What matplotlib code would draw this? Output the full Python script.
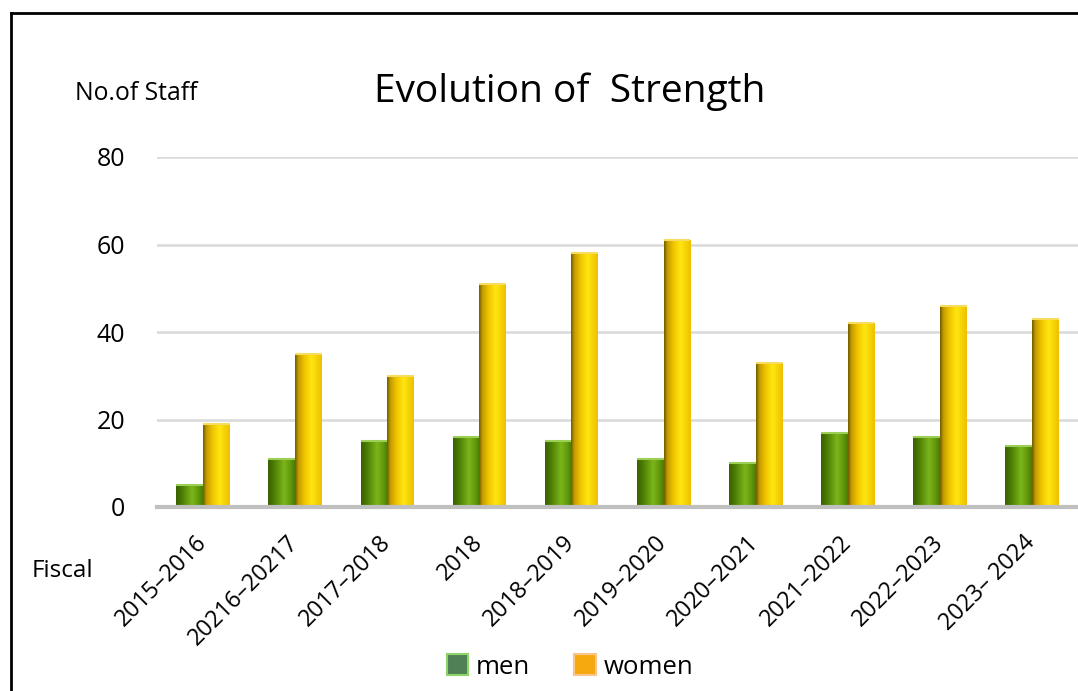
import numpy as np
import matplotlib
matplotlib.use("Agg")
import matplotlib.pyplot as plt
from matplotlib.colors import LinearSegmentedColormap
from matplotlib.patches import Patch
from matplotlib.lines import Line2D

plt.rcParams['font.family'] = ['Open Sans', 'DejaVu Sans']

# Data
fiscal_years = ["2015–2016", "20216–20217", "2017–2018", "2018", "2018–2019",
                "2019–2020", "2020–2021", "2021–2022", "2022–2023", "2023– 2024"]
men = [5, 11, 15, 16, 15, 11, 10, 17, 16, 14]
women = [19, 35, 30, 51, 58, 61, 33, 42, 46, 43]
y_ticks = [0, 20, 40, 60, 80]

W, H = 1078, 691
fig = plt.figure(figsize=(W / 100, H / 100), dpi=100)
fig.patch.set_facecolor("white")

ax = fig.add_axes([157 / W, (H - 507) / H, 1 - 157 / W, (507 - 157) / H])

x = np.arange(len(fiscal_years))
bw = 0.29
men_bars = ax.bar(x - bw / 2, men, width=bw, color="#5e9a10", edgecolor="none", zorder=3)
women_bars = ax.bar(x + bw / 2, women, width=bw, color="#f5cc00", edgecolor="none", zorder=3)

# cylinder-style horizontal shading for each bar
men_cmap = LinearSegmentedColormap.from_list(
    "men_shade", [(0, "#3a6000"), (0.25, "#4f8206"), (0.6, "#7cb51a"), (0.85, "#5f980c"), (1, "#4a7a04")])
women_cmap = LinearSegmentedColormap.from_list(
    "women_shade", [(0, "#6e5c00"), (0.12, "#c59c00"), (0.35, "#f0c400"), (0.62, "#ffe610"), (1, "#eec000")])
grad = np.linspace(0, 1, 64).reshape(1, -1)

def shade(bars, cmap, top_color):
    for b in bars:
        x0, y0 = b.get_x(), b.get_y()
        w, h = b.get_width(), b.get_height()
        im = ax.imshow(grad, cmap=cmap, aspect="auto", extent=(x0, x0 + w, y0, y0 + h),
                       interpolation="bicubic", zorder=4)
        im.set_clip_path(b)
        ax.plot([x0, x0 + w], [y0 + h, y0 + h], color=top_color, lw=1.5, zorder=5,
                solid_capstyle="butt")

shade(men_bars, men_cmap, "#9ccf55")
shade(women_bars, women_cmap, "#f7dc60")

ax.set_xlim(-0.5, len(fiscal_years) - 0.5)
ax.set_ylim(0, 80)
ax.set_yticks(y_ticks)
ax.set_yticklabels([str(v) for v in y_ticks], fontsize=18)
ax.set_xticks(x)
ax.set_xticklabels(fiscal_years, fontsize=16.8, rotation=45, ha="right", va="center",
                   rotation_mode="anchor")
ax.tick_params(axis="both", length=0)
ax.tick_params(axis="y", pad=23)
ax.tick_params(axis="x", pad=23)

ax.grid(axis="y", color="#d9d9d9", lw=1.8, zorder=0)
ax.set_axisbelow(True)
for s in ["top", "right", "left"]:
    ax.spines[s].set_visible(False)
ax.spines["bottom"].set_color("#c0c0c0")
ax.spines["bottom"].set_linewidth(3)
ax.spines["bottom"].set_zorder(6)

fig.text(570 / W, 1 - 92 / H, "Evolution of  Strength", fontsize=28, ha="center", va="center")
fig.text(75 / W, 1 - 94 / H, "No.of Staff", fontsize=17.8, ha="left", va="center")
fig.text(32 / W, 1 - 571 / H, "Fiscal", fontsize=17.5, ha="left", va="center")

handles = [Patch(facecolor="#4f8056", edgecolor="#8fd468", lw=1.5, label="men"),
           Patch(facecolor="#f6a90e", edgecolor="#f8c490", lw=1.5, label="women")]
fig.legend(handles=handles, loc="center", bbox_to_anchor=(570 / W, 1 - 667 / H), ncol=2,
           frameon=False, fontsize=18.5, handlelength=0.85, handleheight=0.85,
           columnspacing=1.7, handletextpad=0.3)

# outer frame (left and top edges)
fig.add_artist(Line2D([11 / W, 11 / W], [0, 1 - 13 / H], color="black", lw=2, transform=fig.transFigure))
fig.add_artist(Line2D([11 / W, 1], [1 - 13 / H, 1 - 13 / H], color="black", lw=2, transform=fig.transFigure))

fig.savefig("out.png", dpi=100)
